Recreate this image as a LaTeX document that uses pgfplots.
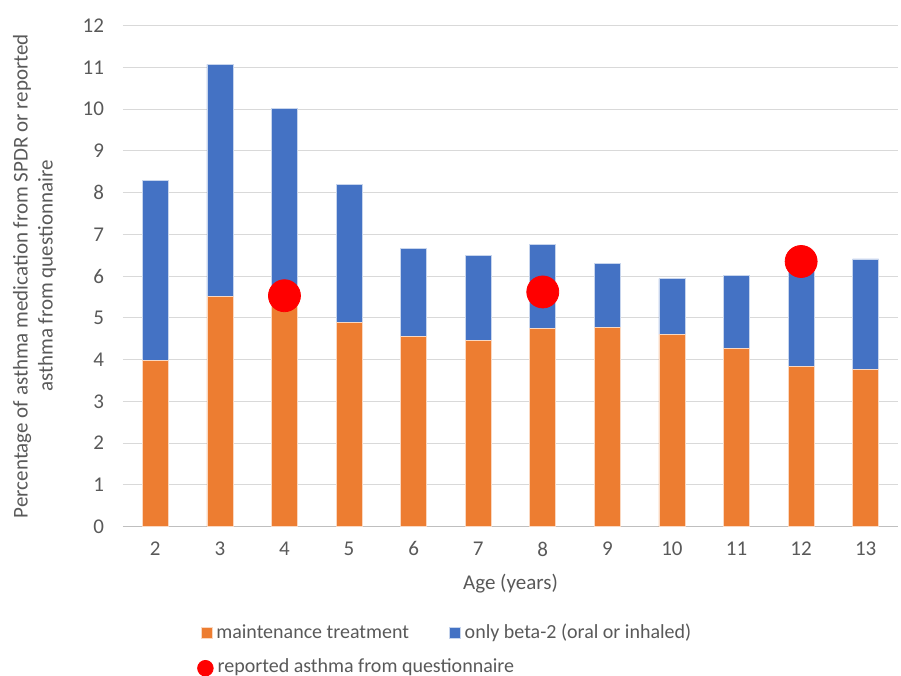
\documentclass[border=0pt]{standalone}
\usepackage{fontspec}
\setmainfont{Carlito}
\usepackage{pgfplots}
\usepackage{pgfplotstable}
\pgfplotsset{compat=1.18}
\definecolor{maint}{HTML}{ED7D31}
\definecolor{beta}{HTML}{4472C4}
\definecolor{txt}{HTML}{595959}
\definecolor{gridc}{HTML}{D9D9D9}
\definecolor{axisc}{HTML}{BFBFBF}

% age, maintenance treatment, only beta-2 (percent)
\pgfplotstableread{
age maint beta
2  3.98 4.32
3  5.52 5.55
4  5.50 4.52
5  4.90 3.30
6  4.56 2.11
7  4.46 2.03
8  4.74 2.01
9  4.78 1.52
10 4.60 1.34
11 4.27 1.75
12 3.83 2.42
13 3.77 2.64
}\bars

% reported asthma from questionnaire
\pgfplotstableread{
age rep
4  5.53
8  5.62
12 6.35
}\reported

\begin{document}
\begin{tikzpicture}[font=\fontsize{10.5}{12.5}\selectfont]
\useasboundingbox (-61.5pt,-74.5pt) rectangle (389pt,263.3pt);
\pgfplotsset{
  common/.style={
    scale only axis, width=387.5pt, height=250.5pt,
    xmin=1.5, xmax=13.5, ymin=0, ymax=12,
  },
}
\begin{axis}[
  common,
  ybar stacked, bar width=13pt,
  axis x line*=bottom, axis y line*=left,
  x axis line style={draw=axisc, line width=0.6pt},
  y axis line style={draw=none},
  xtick={2,...,13}, ytick={0,...,12},
  major tick length=0pt,
  ymajorgrids, grid style={draw=gridc, line width=0.6pt},
  tick label style={text=txt, font=\fontsize{10.5}{12.5}\selectfont},
  /pgf/number format/assume math mode=true,
  yticklabel style={xshift=-6pt},
  xticklabel style={yshift=-4pt},
  xlabel={Age (years)},
  xlabel style={text=txt, yshift=-2pt},
  ylabel={Percentage of asthma medication from SPDR or reported\\asthma from questionnaire},
  every axis y label/.style={at={(axis description cs:-0.114,0.5)}, rotate=90,
    anchor=center, align=center, text=txt},
  legend columns=2,
  legend style={at={(axis description cs:0.092,-0.178)}, anchor=north west, draw=none,
    fill=none, text=txt, font=\fontsize{10}{12}\selectfont,
    /tikz/every even column/.append style={column sep=18pt}},
  legend image code/.code={\fill[#1] (0pt,-2.5pt) rectangle (5.5pt,3pt);},
]
\addplot[fill=maint, draw=white!70!maint, line width=0.3pt] table[x=age, y=maint] {\bars};
\addlegendentry{maintenance treatment}
\addplot[fill=beta, draw=white!70!beta, line width=0.3pt] table[x=age, y=beta] {\bars};
\addlegendentry{only beta-2 (oral or inhaled)}
\end{axis}
\begin{axis}[
  common, hide axis,
  legend style={at={(axis description cs:0.0875,-0.247)}, anchor=north west, draw=none,
    fill=none, text=txt, font=\fontsize{10}{12}\selectfont},
  legend image code/.code={\fill[red] (2.5pt,-0.5pt) circle (3.9pt);},
]
\addplot[only marks, mark=*, mark size=8pt, color=red] table[x=age, y=rep] {\reported};
\addlegendentry{reported asthma from questionnaire}
\end{axis}
\end{tikzpicture}
\end{document}
